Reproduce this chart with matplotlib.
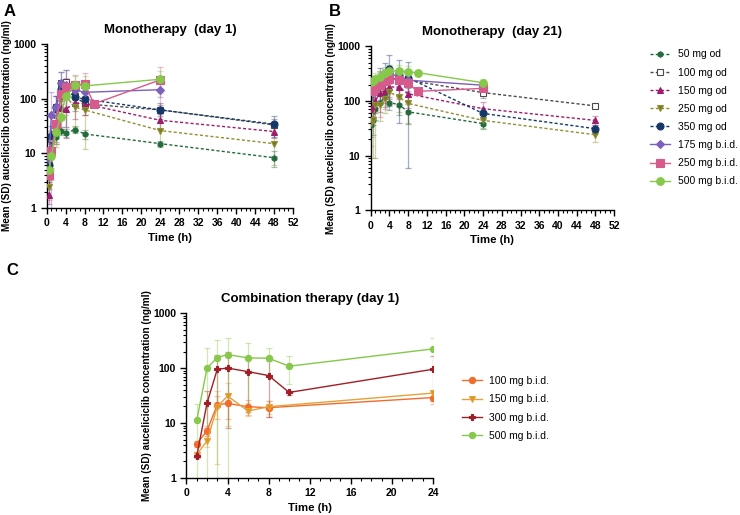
import matplotlib
matplotlib.use("Agg")
import matplotlib.pyplot as plt
from matplotlib.ticker import LogLocator, FixedLocator, NullFormatter, MultipleLocator
import numpy as np

plt.rcParams['font.family'] = ['Liberation Sans', 'DejaVu Sans']

# ---------------- Data ----------------
# Panel A: monotherapy day 1
tA_od = [0.5, 1, 2, 3, 4, 6, 8, 24, 48]
A_50od = [5.0, 12, 20, 26, 23.5, 27, 22.6, 15, 8.3]
A_50od_sd = [1.0, 3, 4, 4, 4, 4, 4, 2, 2.7]
A_100od = [6, 18, 70, 190, 200, 110, 80, 62, 33]
A_100od_sd = [3, 8, 40, 110, 130, 50, 30, 15, 10]
A_150od = [1.7, 10.5, 30, 66, 64, 83, 80, 40, 25]
A_150od_sd = [0.5, 5, 15, 40, 45, 40, 30, 12, 6]
A_250od = [2.4, 9, 25, 100, 110, 70, 62, 26, 15]
A_250od_sd = [0.9, 4, 12, 60, 80, 40, 50, 12, 9]
A_350od = [6, 21, 70, 150, 150, 106, 98, 62, 34]
A_350od_sd = [2, 10, 40, 60, 50, 30, 30, 20, 14]
tA_175 = [0.5, 1, 2, 3, 4, 6, 8, 24]
A_175bid = [8, 50, 70, 190, 180, 145, 130, 145]
A_175bid_sd = [3, 80, 40, 120, 150, 60, 50, 40]
tA_250 = [0.5, 1, 2, 3, 4, 6, 8, 10, 24]
A_250bid = [4, 11, 35, 120, 165, 175, 185, 80, 220]
A_250bid_sd = [2.6, 7.7, 20, 60, 70, 90, 110, 10, 150]
tA_500 = [0.5, 1, 2, 3, 4, 6, 8, 24]
A_500bid = [5, 9, 25, 46, 110, 175, 170, 225]
A_500bid_sd = [2, 4, 10, 20, 60, 80, 90, 100]

# Panel B: monotherapy day 21
tB_od = [0, 0.5, 1, 2, 3, 4, 6, 8, 24, 48]
tB_50 = [0, 0.5, 1, 2, 3, 4, 6, 8, 24]
B_50od = [37, 44, 70, 93, 118, 93, 86, 63, 38.5]
B_50od_sd = [15, 20, 25, 30, 40, 25, 30, 25, 8]
B_100od = [160, 170, 190, 220, 240, 260, 250, 240, 142, 81]
B_100od_sd = [50, 50, 60, 70, 80, 90, 80, 70, 30, 8]
B_150od = [72, 77, 100, 140, 152, 180, 180, 135, 72, 44]
B_150od_sd = [30, 40, 40, 50, 60, 70, 70, 60, 25, 8]
B_250od = [40, 44, 85, 83, 110, 145, 118, 90, 44, 24]
B_250od_sd = [25, 35, 76, 40, 50, 60, 55, 50, 12, 6]
B_350od = [172, 157, 180, 255, 315, 380, 300, 265, 59, 31]
B_350od_sd = [60, 60, 100, 150, 180, 300, 260, 259, 15, 6]
tB_175 = [0, 0.5, 1, 2, 3, 4, 6, 8, 24]
B_175bid = [180, 190, 210, 240, 270, 330, 270, 240, 194]
B_175bid_sd = [60, 60, 80, 100, 100, 120, 100, 90, 40]
tB_250 = [0, 0.5, 1, 2, 3, 4, 6, 8, 10, 24]
B_250bid = [155, 160, 175, 200, 230, 250, 245, 210, 150, 170]
B_250bid_sd = [80, 90, 100, 150, 160, 150, 130, 120, 20, 40]
tB_500 = [0, 0.5, 1, 2, 3, 4, 6, 8, 10, 24]
B_500bid = [225, 230, 250, 280, 320, 350, 355, 340, 330, 215]
B_500bid_sd = [60, 60, 80, 80, 90, 100, 110, 100, 40, 40]

# Panel C: combination therapy day 1
tC_low = [1, 2, 3, 4, 6, 8, 24]
tC_high = [1, 2, 3, 4, 6, 8, 10, 24]
C_100bid = [4.2, 7.2, 21.6, 22.7, 19.8, 19, 29]
C_100bid_sd = [0.5, 1.5, 10, 11, 6, 6, 7]
C_150bid = [2.66, 4.7, 19.8, 31, 16.5, 19.8, 35]
C_150bid_sd = [0.3, 1.0, 18, 22, 3, 5, 5]
C_300bid = [2.5, 23, 95, 100, 86, 73, 36, 95]
C_300bid_sd = [0.2, 15, 75, 92, 70, 60, 3, 70]
C_500bid = [11.1, 100, 155, 176, 153, 151, 108, 223]
C_500bid_sd = [11, 130, 175, 175, 130, 80, 57, 130]

yticks = [1, 10, 100, 1000]
ytick_labels = ["1", "10", "100", "1000"]

# ---------------- Styles ----------------
dash = (0, (2.2, 1.6))
mono_styles = {
    "50 mg od":     dict(color="#236b3c", marker="h", ms=4.0, ls=dash, mfc="#236b3c"),
    "100 mg od":    dict(color="#4a4a4a", marker="s", ms=4.5, ls=dash, mfc="white"),
    "150 mg od":    dict(color="#9c1d6b", marker="^", ms=4.5, ls=dash, mfc="#9c1d6b"),
    "250 mg od":    dict(color="#8e9033", marker="v", ms=4.5, ls=dash, mfc="#7a7a22"),
    "350 mg od":    dict(color="#15386a", marker="o", ms=5.0, ls=dash, mfc="#15386a"),
    "175 mg b.i.d.": dict(color="#7d5fbd", marker="D", ms=4.5, ls="-", mfc="#7d5fbd"),
    "250 mg b.i.d.": dict(color="#d65a8c", marker="s", ms=6.0, ls="-", mfc="#d65a8c"),
    "500 mg b.i.d.": dict(color="#86c84a", marker="o", ms=5.5, ls="-", mfc="#86c84a"),
}
comb_styles = {
    "100 mg b.i.d.": dict(color="#f26c2b", marker="o", ms=4.5, ls="-", mfc="#f26c2b"),
    "150 mg b.i.d.": dict(color="#e4a23a", marker="v", ms=4.5, ls="-", mfc="#e09424"),
    "300 mg b.i.d.": dict(color="#a11e26", marker="P", ms=4.5, ls="-", mfc="#a11e26"),
    "500 mg b.i.d.": dict(color="#86c84a", marker="o", ms=4.5, ls="-", mfc="#86c84a"),
}


def plot_series(ax, t, y, sd, st, label):
    y = np.asarray(y, float)
    sd = np.asarray(sd, float)
    lower = np.minimum(sd, y - 0.01)
    ax.errorbar(t, y, yerr=[lower, sd], fmt='none', ecolor=st["color"], alpha=0.4,
                elinewidth=0.9, capsize=2.5, capthick=0.9, zorder=2)
    ax.plot(t, y, color=st["color"], ls=st["ls"], lw=1.0, marker=st["marker"],
            ms=st["ms"], mfc=st["mfc"], mec=st["color"], mew=0.8, label=label, zorder=3)


def style_axes(ax, xmax, title):
    ax.set_yscale("log")
    ax.set_ylim(1, 1000)
    ax.set_xlim(0, xmax)
    ax.yaxis.set_major_locator(FixedLocator(yticks))
    ax.set_yticklabels(ytick_labels)
    ax.yaxis.set_minor_locator(LogLocator(base=10, subs=np.arange(2, 10)))
    ax.yaxis.set_minor_formatter(NullFormatter())
    ax.xaxis.set_major_locator(MultipleLocator(4))
    ax.xaxis.set_minor_locator(MultipleLocator(1))
    for s in ["top", "right"]:
        ax.spines[s].set_visible(False)
    for s in ["left", "bottom"]:
        ax.spines[s].set_linewidth(1.0)
    ax.tick_params(which="major", direction="out", length=4, width=1.0, labelsize=7.5)
    ax.tick_params(which="minor", direction="out", length=2.2, width=0.8)
    for lab in ax.get_xticklabels() + ax.get_yticklabels():
        lab.set_fontweight("bold")
    ax.set_xlabel("Time (h)", fontsize=8.2, fontweight="bold", labelpad=3)
    ax.set_ylabel("Mean (SD) auceliciclib concentration (ng/ml)", fontsize=7.2,
                  fontweight="bold", labelpad=0.8)
    ax.set_title(title, fontsize=9.5, fontweight="bold", pad=8)


fig = plt.figure(figsize=(7.4, 5.15), dpi=100)
axA = fig.add_axes([0.063, 0.596, 0.333, 0.319])
axB = fig.add_axes([0.501, 0.592, 0.329, 0.318])
axC = fig.add_axes([0.252, 0.072, 0.333, 0.320])

A_data = [
    ("50 mg od", tA_od, A_50od, A_50od_sd),
    ("100 mg od", tA_od, A_100od, A_100od_sd),
    ("150 mg od", tA_od, A_150od, A_150od_sd),
    ("250 mg od", tA_od, A_250od, A_250od_sd),
    ("350 mg od", tA_od, A_350od, A_350od_sd),
    ("175 mg b.i.d.", tA_175, A_175bid, A_175bid_sd),
    ("250 mg b.i.d.", tA_250, A_250bid, A_250bid_sd),
    ("500 mg b.i.d.", tA_500, A_500bid, A_500bid_sd),
]
B_data = [
    ("50 mg od", tB_50, B_50od, B_50od_sd),
    ("100 mg od", tB_od, B_100od, B_100od_sd),
    ("150 mg od", tB_od, B_150od, B_150od_sd),
    ("250 mg od", tB_od, B_250od, B_250od_sd),
    ("350 mg od", tB_od, B_350od, B_350od_sd),
    ("175 mg b.i.d.", tB_175, B_175bid, B_175bid_sd),
    ("250 mg b.i.d.", tB_250, B_250bid, B_250bid_sd),
    ("500 mg b.i.d.", tB_500, B_500bid, B_500bid_sd),
]
C_data = [
    ("100 mg b.i.d.", tC_low, C_100bid, C_100bid_sd),
    ("150 mg b.i.d.", tC_low, C_150bid, C_150bid_sd),
    ("300 mg b.i.d.", tC_high, C_300bid, C_300bid_sd),
    ("500 mg b.i.d.", tC_high, C_500bid, C_500bid_sd),
]

for lab, t, y, sd in A_data:
    plot_series(axA, t, y, sd, mono_styles[lab], lab)
for lab, t, y, sd in B_data:
    plot_series(axB, t, y, sd, mono_styles[lab], lab)
for lab, t, y, sd in C_data:
    plot_series(axC, t, y, sd, comb_styles[lab], lab)

style_axes(axA, 52, "Monotherapy  (day 1)")
style_axes(axB, 52, "Monotherapy  (day 21)")
style_axes(axC, 24, "Combination therapy (day 1)")

hA, lA = axA.get_legend_handles_labels()
fig.legend(hA, lA, loc="upper left", bbox_to_anchor=(0.879, 0.904), frameon=False,
           prop={"size": 7.5, "weight": "normal"}, handlelength=1.9, handletextpad=0.75,
           labelspacing=0.78, borderpad=0, borderaxespad=0)
hC, lC = axC.get_legend_handles_labels()
fig.legend(hC, lC, loc="upper left", bbox_to_anchor=(0.624, 0.270), frameon=False,
           prop={"size": 7.5, "weight": "normal"}, handlelength=1.9, handletextpad=0.75,
           labelspacing=0.8, borderpad=0, borderaxespad=0)

fig.text(0.005, 0.977, "A", fontsize=12, fontweight="bold", va="center")
fig.text(0.445, 0.977, "B", fontsize=12, fontweight="bold", va="center")
fig.text(0.008, 0.475, "C", fontsize=12, fontweight="bold", va="center")

fig.savefig("out.png", dpi=100)
